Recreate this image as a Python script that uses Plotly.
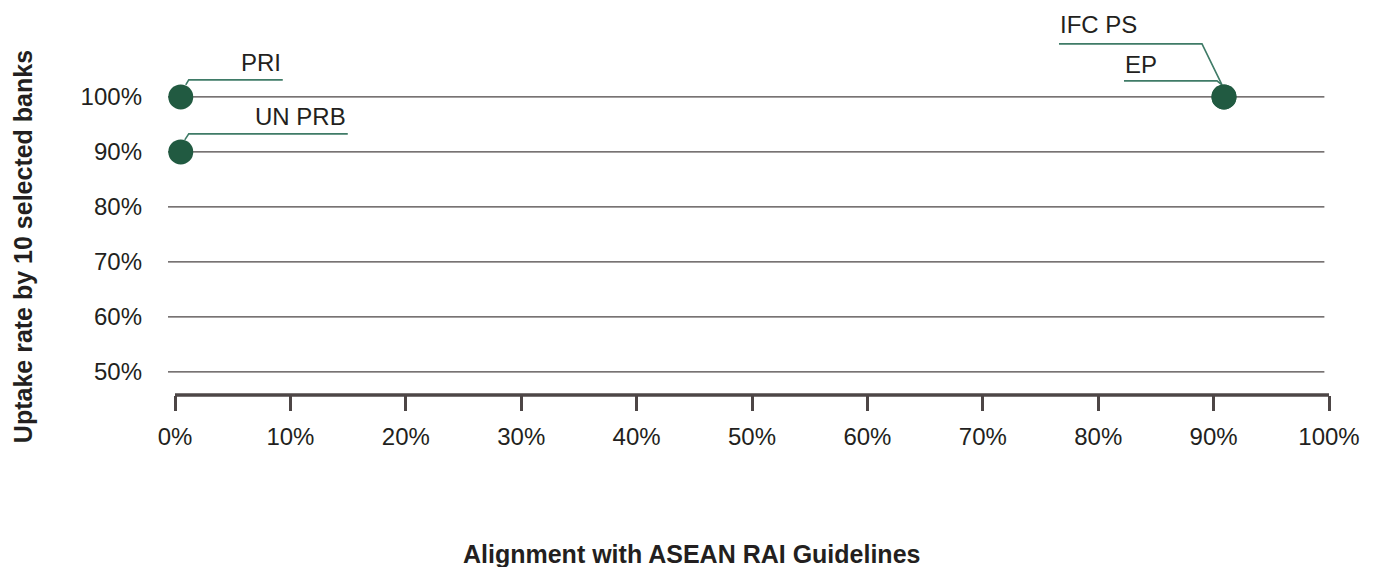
import plotly.graph_objects as go

# ---- data ----
names = ["PRI", "UN PRB", "EP", "IFC PS"]
alignment = [0.5, 0.5, 90.9, 90.9]      # % alignment with ASEAN RAI Guidelines
uptake = [100, 90, 100, 100]            # % uptake by 10 selected banks
x_ticks = [0, 10, 20, 30, 40, 50, 60, 70, 80, 90, 100]
x_tick_labels = [f"{v}%" for v in x_ticks]
y_ticks = [50, 60, 70, 80, 90, 100]
y_tick_labels = [f"{v}%" for v in y_ticks]

# ---- label / leader styling (pixel offsets relative to each point) ----
label_style = {
    "PRI":    dict(path="M5,12 L8,17 L102,17",  tx=102,  ty=34, anchor="right"),
    "UN PRB": dict(path="M4,12 L8,18 L167,18",  tx=167,  ty=35, anchor="right"),
    "EP":     dict(path="M-2,12 L-7,16 L-100,16", tx=-101, ty=32, anchor="left"),
    "IFC PS": dict(path="M-2,12 L-22,53 L-165,53", tx=-166, ty=72, anchor="left"),
}

FONT = "Liberation Sans, Arial, Helvetica, sans-serif"
TXT = "#231f20"
GRID = "#4a4444"
AXIS = "#4d4646"
DOT = "#215a41"
LEAD = "#3f7b67"

XMIN = -0.607
YMIN, YMAX = 45.8, 115.8

fig = go.Figure()
fig.add_trace(go.Scatter(
    x=alignment, y=uptake, mode="markers",
    marker=dict(size=25, color=DOT, line=dict(width=0)),
    cliponaxis=False, hoverinfo="text", text=names, showlegend=False,
))

shapes = []
# horizontal gridlines
for v in y_ticks:
    shapes.append(dict(type="line", xref="x", yref="y", x0=XMIN, x1=99.6, y0=v, y1=v,
                       line=dict(color=GRID, width=1.4), layer="below"))
# x axis baseline
shapes.append(dict(type="line", xref="x", yref="paper", x0=0, x1=100, y0=0, y1=0,
                   line=dict(color=AXIS, width=3.5)))

annotations = []
for n, xv, yv in zip(names, alignment, uptake):
    s = label_style[n]
    shapes.append(dict(type="path", xref="x", yref="y", xsizemode="pixel", ysizemode="pixel",
                       xanchor=xv, yanchor=yv, path=s["path"],
                       line=dict(color=LEAD, width=1.6), layer="below"))
    annotations.append(dict(x=xv, y=yv, xref="x", yref="y", text=n, showarrow=False,
                            xanchor=s["anchor"], yanchor="middle", xshift=s["tx"], yshift=s["ty"],
                            font=dict(family=FONT, size=24, color=TXT)))

annotations.append(dict(x=0.4513, y=0, xref="paper", yref="paper", yshift=-159,
                        text="<b>Alignment with ASEAN RAI Guidelines</b>", showarrow=False,
                        xanchor="center", yanchor="middle",
                        font=dict(family=FONT, size=25, color=TXT)))
annotations.append(dict(x=0, y=0.384, xref="paper", yref="paper", xshift=-145,
                        text="<b>Uptake rate by 10 selected banks</b>", showarrow=False,
                        textangle=-90, xanchor="center", yanchor="middle",
                        font=dict(family=FONT, size=25, color=TXT)))

fig.update_layout(
    width=1378, height=559,
    margin=dict(l=160, r=57, t=2, b=172),
    paper_bgcolor="white", plot_bgcolor="white",
    shapes=shapes, annotations=annotations,
    xaxis=dict(range=[XMIN, 100], tickvals=x_ticks, ticktext=x_tick_labels,
               showgrid=False, zeroline=False, showline=False,
               ticks="outside", ticklen=15, tickwidth=3, tickcolor=AXIS,
               ticklabelstandoff=5,
               tickfont=dict(family=FONT, size=24, color=TXT)),
    yaxis=dict(range=[YMIN, YMAX], tickvals=y_ticks, ticktext=y_tick_labels,
               showgrid=False, zeroline=False, showline=False, ticks="",
               ticklabelstandoff=25,
               tickfont=dict(family=FONT, size=24, color=TXT)),
)

fig.write_html("out.html")
